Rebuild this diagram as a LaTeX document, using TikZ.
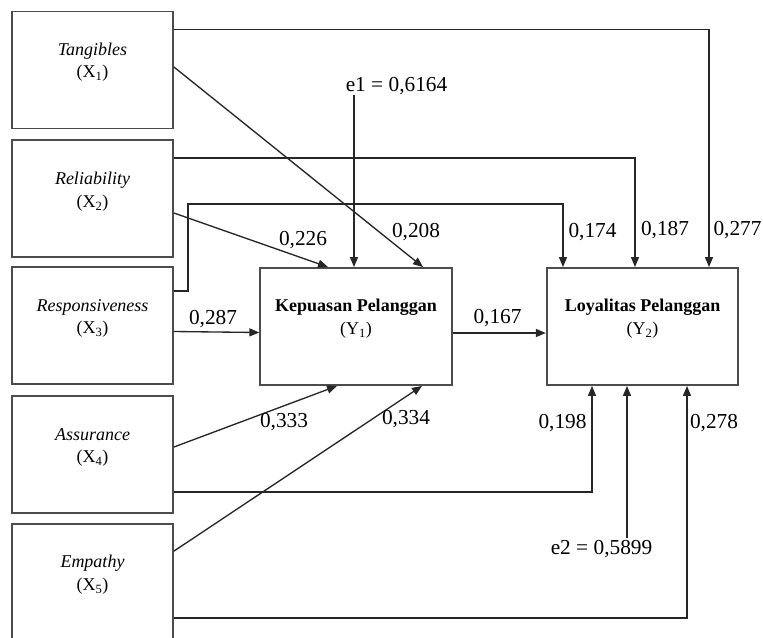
\documentclass[tikz,border=0pt]{standalone}
\usepackage{fontspec}
\setmainfont{Liberation Serif}
\usetikzlibrary{arrows.meta,calc}

\tikzset{
	xbox/.style={draw=black!70, line width=1.4pt, minimum width=120.75pt, minimum height=87.75pt, inner sep=0pt},
	ybox/.style={xbox, minimum width=143.6pt},
	lab/.style={font=\fontsize{13.5}{17}\selectfont, align=center},
	num/.style={font=\fontsize{16}{19}\selectfont, inner sep=0pt},
	arr/.style={-{Triangle[length=7.5pt,width=6pt]}, line width=1pt, black!85},
}

\begin{document}
\begin{tikzpicture}[x=0.75pt, y=-0.75pt]   %% pixel grid, y down
	\useasboundingbox (0,0) rectangle (763,637);
	\fill[white] (0,0) rectangle (763,637);
	\clip (0,0) rectangle (763,637);

	%% boxes
	\node[xbox] (x1) at (92.5,70) {};
	\node[xbox] (x2) at (92.5,198.5) {};
	\node[xbox] (x3) at (92.5,325.5) {};
	\node[xbox] (x4) at (92.5,454.5) {};
	\node[xbox] (x5) at (92.5,582.5) {};
	\node[ybox] (y1) at (356,326.5) {};
	\node[ybox] (y2) at (642.5,326.5) {};

	\node[lab] (tx1) at ($(x1)+(0,-8)$) {\textit{Tangibles}\\(X\textsubscript{1})};
	\node[lab] (tx2) at ($(x2)+(0,-7)$) {\textit{Reliability}\\(X\textsubscript{2})};
	\node[lab] (tx3) at ($(x3)+(0,-7)$) {\textit{Responsiveness}\\(X\textsubscript{3})};
	\node[lab] (tx4) at ($(x4)+(0,-7)$) {\textit{Assurance}\\(X\textsubscript{4})};
	\node[lab] (tx5) at ($(x5)+(0,-8)$) {\textit{Empathy}\\(X\textsubscript{5})};
	\node[lab] (ty1) at ($(y1)+(0,-8)$) {\textbf{Kepuasan Pelanggan}\\(Y\textsubscript{1})};
	\node[lab] (ty2) at ($(y2)+(0,-8)$) {\textbf{Loyalitas Pelanggan}\\(Y\textsubscript{2})};

	%% error terms
	\node[num] (e1) at (396.5,86) {e1 = 0,6164};
	\node[num] (e2) at (601.5,549) {e2 = 0,5899};
	\coordinate (t1) at ($(y1.north)+(-2,0)$);
	\coordinate (t2) at ($(y2.south)+(-15.5,0)$);
	\draw[arr] (e1.south -| t1) -- (t1);
	\draw[arr] ($(e2.north -| t2)+(0,-2)$) -- (t2);

	%% paths into Y1
	\draw[arr] ($(x1.east)+(0,-3)$) -- ($(y1.north)+(67,0)$);
	\draw[arr] ($(x2.east)+(0,14.5)$) -- ($(y1.north)+(-28,0)$);
	\draw[arr] ($(x3.east)+(0,6)$) -- ($(y1.west)+(0,6)$);
	\draw[arr] ($(x4.east)+(0,-7.5)$) -- ($(y1.south)+(-19,0)$);
	\draw[arr] ($(x5.north east)+(0,28)$) -- ($(y1.south)+(66,0)$);

	%% paths into Y2
	\draw[arr] ($(x1.north east)+(0,19)$) -| ($(y2.north)+(66.5,0)$);
	\draw[arr] ($(x2.north east)+(0,19)$) -| ($(y2.north)+(-7.5,0)$);
	\draw[arr] ($(x3.north east)+(0,25)$) -| (188,204) -| ($(y2.north)+(-79.5,0)$);
	\draw[arr] ($(x4.east)+(0,37.5)$) -| ($(y2.south)+(-50.5,0)$);
	\draw[arr] ($(x5.north east)+(0,95)$) -| ($(y2.south)+(44.5,0)$);
	\draw[arr] ($(y1.east)+(0,6.5)$) -- ($(y2.west)+(0,6.5)$);

	%% coefficients
	\node[num] (c208) at (416,232) {0,208};
	\node[num] (c226) at (303,240) {0,226};
	\node[num] (c287) at (213,319) {0,287};
	\node[num] (c333) at (284,422) {0,333};
	\node[num] (c334) at (406,419) {0,334};
	\node[num] (c167) at (497.5,318) {0,167};
	\node[num] (c174) at (592.5,232) {0,174};
	\node[num] (c187) at (665,230) {0,187};
	\node[num] (c277) at (737.5,230) {0,277};
	\node[num] (c198) at (562.5,423) {0,198};
	\node[num] (c278) at (714,423) {0,278};
\end{tikzpicture}
\end{document}
